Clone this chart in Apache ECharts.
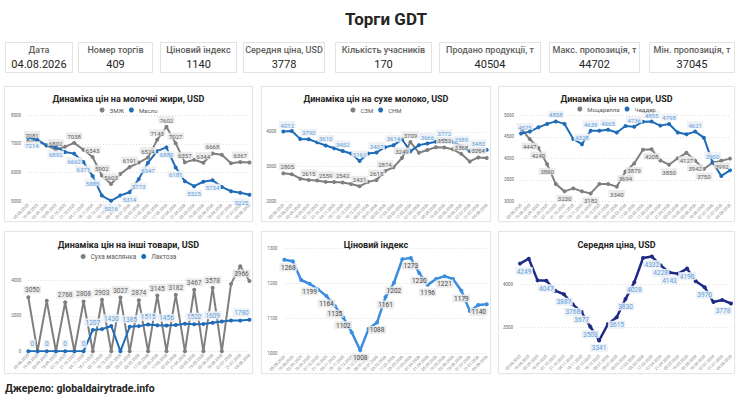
<!DOCTYPE html>
<html><head><meta charset="utf-8">
<script src="https://cdn.jsdelivr.net/npm/echarts@6/dist/echarts.min.js"></script>
<style>
body{margin:0;width:750px;height:411px;background:#fff;font-family:Roboto,'Noto Sans',sans-serif;position:relative;overflow:hidden}
#title{position:absolute;left:0;width:772px;top:8px;text-align:center;font-size:17px;font-weight:bold;color:#252423;line-height:22px}
.kpi{position:absolute;top:42px;height:31px;border:1px solid #e3e3e3;box-sizing:border-box;text-align:center;white-space:nowrap}
.kpi .l{font-size:9px;color:#605e5c;margin-top:2px;font-weight:500;line-height:11px}
.kpi .v{font-size:11px;color:#252423;line-height:13px;margin-top:2px}
.panel{position:absolute;border:1px solid #e6e6e6;box-sizing:border-box;box-shadow:0 0 2px rgba(0,0,0,0.05)}
.ch{position:absolute}
#foot{position:absolute;left:5px;top:382px;font-size:10.5px;font-weight:bold;color:#252423}
</style></head>
<body>
<div id="title">Торги GDT</div>
<div id="kpis"></div>
<div id="panels"></div>
<div id="foot">Джерело: globaldairytrade.info</div>
<script>
// ---- data ----
const dates = ['05.08.2025','19.08.2025','02.09.2025','16.09.2025','07.10.2025','21.10.2025','04.11.2025','18.11.2025','02.12.2025','16.12.2025','06.01.2026','20.01.2026','03.02.2026','17.02.2026','03.03.2026','17.03.2026','07.04.2026','21.04.2026','05.05.2026','19.05.2026','02.06.2026','16.06.2026','07.07.2026','21.07.2026','04.08.2026'];

const kpiLabels = ['Дата','Номер торгів','Ціновий індекс','Середня ціна, USD','Кількість учасників','Продано продукції, т','Макс. пропозиція, т','Мін. пропозиція, т'];
const kpiValues = ['04.08.2026','409','1140','3778','170','40504','44702','37045'];

const amf    = [7081,7100,6950,6802,6900,7038,6800,6543,5902,5603,5950,6191,6350,6524,7143,7602,7027,6357,6450,6344,6668,6620,6330,6367,6350];
const butter = [7214,7150,6950,6892,6720,6662,6371,5885,5200,5016,5200,5314,5773,6347,6750,6880,6181,5700,5525,5680,5734,5500,5350,5300,5225];

const smp = [2805,2780,2650,2615,2600,2559,2555,2542,2500,2431,2560,2615,2874,2980,3249,3709,3400,3480,3560,3552,3500,3368,3150,3264,3250];
const wmp = [4012,4030,3800,3790,3700,3610,3530,3452,3380,3161,3380,3407,3560,3614,3790,3440,3620,3666,3720,3772,3720,3589,3450,3483,3483];

const mozz    = [4690,4447,4240,3860,3400,3230,3300,3230,3182,3400,3400,3340,3694,3879,4200,4208,3950,3850,4000,4127,3942,3750,3900,3940,3992];
const cheddar = [4575,4620,4720,4800,4858,4800,4450,4328,4639,4640,4665,4600,4750,4736,4850,4855,4760,4798,4600,4560,4621,4480,3900,3590,3720];

const bmp     = [3050,0,2850,0,2768,0,2808,0,2903,0,3027,0,2874,0,3145,0,3182,0,3467,0,3578,0,3800,4800,3966];
const lactose = [0,0,0,0,0,0,0,1207,1250,1430,0,1385,1420,1515,1470,1456,1480,1550,1522,1540,1609,1680,1740,1730,1780];

const priceIndex = [1268,1264,1210,1199,1183,1164,1135,1102,1059,1008,1070,1088,1161,1202,1270,1273,1230,1196,1213,1221,1213,1179,1121,1138,1140];
const avgPrice   = [4249,4307,4051,4047,3929,3887,3768,3677,3503,3341,3535,3615,3830,4028,4315,4332,4228,4143,4130,4190,4040,3970,3795,3820,3778];

// which points carry a data label
const amfLab = [0,3,5,7,8,9,11,13,14,15,16,17,19,20,23];
const butterLab = [0,3,5,6,7,9,11,12,13,15,16,18,20,24];
const smpLab = [0,3,5,7,9,11,12,14,15,19,21,23];
const wmpLab = [0,3,5,7,9,11,13,17,19,21,23];
const mozzLab = [1,2,3,5,8,11,12,13,15,17,19,20,21,24];
const cheddarLab = [0,4,7,8,10,13,15,17,20,22];
const bmpLab = [0,4,6,8,10,12,14,16,18,20,24];
const lactoseLab = [0,2,4,6,7,9,11,13,15,18,20,24];
const indexLab = [0,3,5,6,7,9,11,12,13,15,16,17,19,21,24];
const avgLab = [0,3,5,6,7,8,9,11,12,13,15,16,17,19,21,24];

// ---- layout ----
const kpiBoxes = [[5,68],[78,75],[160,77],[243,82],[335,97],[439,102],[549,91],[649,86]];
let kh='';
kpiLabels.forEach((l,i)=>{kh+=`<div class="kpi" style="left:${kpiBoxes[i][0]}px;width:${kpiBoxes[i][1]}px"><div class="l">${l}</div><div class="v">${kpiValues[i]}</div></div>`;});
document.getElementById('kpis').innerHTML=kh;

const panels = [
  {l:4,t:86,w:249,h:136},{l:261,t:86,w:230,h:136},{l:498,t:86,w:237,h:136},
  {l:4,t:231,w:249,h:143},{l:261,t:231,w:230,h:143},{l:498,t:231,w:237,h:143}
];
let ph='';
panels.forEach((p,i)=>{ph+=`<div class="panel" style="left:${p.l}px;top:${p.t}px;width:${p.w}px;height:${p.h}px"></div><div class="ch" id="c${i}" style="left:${p.l}px;top:${p.t}px;width:${p.w}px;height:${p.h}px"></div>`;});
document.getElementById('panels').innerHTML=ph;

const GREY='#7f7f7f', BLUE='#1e6bb8';
const FONT='Roboto, "Noto Sans", sans-serif';
function pts(vals, idx){
  const last=vals.length-1;
  return vals.map((v,i)=> idx.includes(i) ? {value:v,label: i===last ? {show:true,offset:[-8,0]} : (i===0?{show:true,offset:[4,0]}:{show:true})} : v);
}
function lab(pos,color,bg,fs){ return {show:false,position:pos,fontSize:fs||6,color:color,fontFamily:FONT,backgroundColor:bg,padding:[1,1.5,0,1.5],distance:1.5}; }
function ser(name,vals,idx,color,lpos,lcolor,lbg,fs,w){
  return {name,type:'line',data:pts(vals,idx),symbol:'circle',symbolSize:4,showSymbol:true,
    lineStyle:{width:w||2,color},itemStyle:{color},label:lab(lpos,lcolor,lbg,fs),z:2};
}
function xAx(){ return {type:'category',data:dates,boundaryGap:false,axisLine:{show:false},axisTick:{show:false},
  axisLabel:{interval:0,rotate:45,fontSize:4,color:'#777',margin:3,fontFamily:FONT}}; }
function yAx(min,max,opt){ const a={type:'value',min,max,axisLine:{show:false},axisTick:{show:false},
  axisLabel:{fontSize:4.5,color:'#666',margin:7,fontFamily:FONT,formatter:v=>String(v)},
  splitLine:{lineStyle:{type:[1,2],color:'#c8c8c8',width:0.6}}};
  if(opt.interval) a.interval=opt.interval;
  if(opt.custom){a.axisTick.customValues=opt.custom;a.axisLabel.customValues=opt.custom;}
  return a; }
function title(t,top){ return {text:t,left:'center',top,textStyle:{fontSize:9,fontWeight:'bold',color:'#252423',fontFamily:FONT}}; }
function legend(names,top,fs){ return {top,left:'center',icon:'circle',itemWidth:5,itemHeight:5,itemGap:5,
  textStyle:{fontSize:fs,color:'#555',fontFamily:FONT,padding:0},data:names}; }

const GLBL='#5f5f5f', GBG='rgba(232,232,232,0.85)', BLBL='#5d9fdc', BBG='rgba(236,240,245,0.9)';

const opts = [
 {title:title('Динаміка цін на молочні жири, USD',3), legend:legend(['ЗМЖ','Масло'],16,6),
  grid:{left:24,top:29.3,width:222.5,height:86}, xAxis:xAx(), yAxis:yAx(5000,8000,{interval:1000}),
  series:[ser('ЗМЖ',amf,amfLab,GREY,'top',GLBL,GBG), ser('Масло',butter,butterLab,BLUE,'bottom',BLBL,BBG)]},
 {title:title('Динаміка цін на сухе молоко, USD',3), legend:legend(['СЗМ','СНМ'],16,6),
  grid:{left:22.3,top:42.5,width:203.4,height:74.2}, xAxis:xAx(), yAxis:yAx(2000,4100,{custom:[2000,3000,4000]}),
  series:[ser('СЗМ',smp,smpLab,GREY,'top',GLBL,GBG), ser('СНМ',wmp,wmpLab,BLUE,'top',BLBL,BBG)]},
 {title:title('Динаміка цін на сири, USD',3), legend:legend(['Моцарелла','Чеддер'],15,6),
  grid:{left:23,top:29.3,width:209,height:87.4}, xAxis:xAx(), yAxis:yAx(3000,5000,{interval:500}),
  series:[ser('Моцарелла',mozz,mozzLab,GREY,'bottom',GLBL,GBG), ser('Чеддер',cheddar,cheddarLab,BLUE,'top',BLBL,BBG)]},
 {title:title('Динаміка цін на інші товари, USD',4), legend:legend(['Суха маслянка','Лактоза'],17,6.5),
  grid:{left:24.3,top:31.6,width:222.4,height:88.7}, xAxis:xAx(), yAxis:yAx(0,5000,{custom:[0,2000,4000]}),
  series:[ser('Суха маслянка',bmp,bmpLab,GREY,'top',GLBL,GBG,6.5), ser('Лактоза',lactose,lactoseLab,BLUE,'top',BLBL,BBG,6.5)]},
 {title:title('Ціновий індекс',4),
  grid:{left:23.3,top:17.7,width:202.4,height:104.3}, xAxis:xAx(), yAxis:yAx(1000,1300,{interval:100}),
  series:[ser('Ціновий індекс',priceIndex,indexLab,'#3a8de0','bottom','#444',GBG,6.5,2.5)]},
 {title:title('Середня ціна, USD',4),
  grid:{left:22,top:15.6,width:211,height:105.8}, xAxis:xAx(), yAxis:yAx(3200,4450,{custom:[3500,4000]}),
  series:[ser('Середня ціна',avgPrice,avgLab,'#1d2a86','bottom',BLBL,BBG,6.5,2.5)]}
];
opts.forEach((o,i)=>{
  o.animation=false;
  const c=echarts.init(document.getElementById('c'+i),null,{renderer:'svg'});
  c.setOption(o);
});
</script>
</body></html>
